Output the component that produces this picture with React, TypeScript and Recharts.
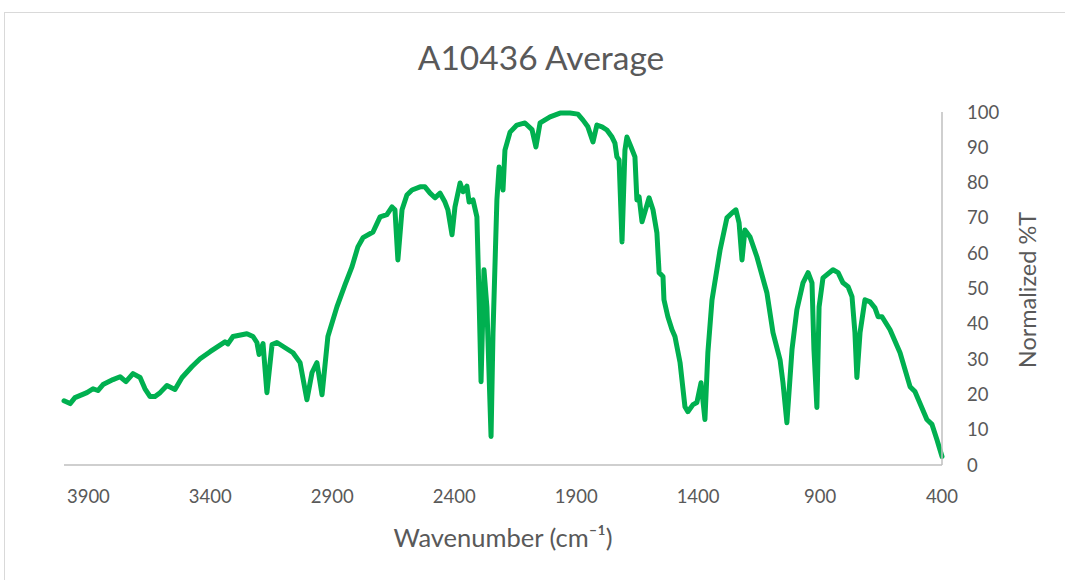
import { LineChart, Line, XAxis, YAxis } from 'recharts';

// spectrum (cm-1, normalized %T)
const wavenumbers = [
  4000, 3975, 3955, 3906, 3881, 3861, 3840, 3799, 3770, 3746, 3717, 3688, 3668, 3647, 3627, 3606,
  3578, 3545, 3516, 3475, 3442, 3401, 3340, 3328, 3307, 3250, 3225, 3209, 3200, 3184, 3168, 3147,
  3127, 3061, 3032, 3004, 2983, 2963, 2942, 2918, 2881, 2848, 2819, 2795, 2774, 2733, 2704, 2676,
  2655, 2643, 2631, 2614, 2594, 2573, 2540, 2520, 2499, 2479, 2458, 2438, 2426, 2409, 2397, 2376,
  2364, 2348, 2339, 2323, 2307, 2298, 2290, 2278, 2266, 2249, 2241, 2225, 2216, 2200, 2192, 2171,
  2143, 2110, 2081, 2065, 2048, 2007, 1966, 1925, 1893, 1872, 1852, 1831, 1815, 1794, 1774, 1753,
  1741, 1733, 1724, 1712, 1700, 1692, 1675, 1659, 1651, 1642, 1630, 1618, 1601, 1585, 1569, 1560,
  1544, 1540, 1524, 1507, 1495, 1474, 1454, 1442, 1421, 1405, 1388, 1372, 1360, 1343, 1310, 1282,
  1261, 1245, 1232, 1220, 1208, 1187, 1159, 1118, 1093, 1064, 1052, 1036, 1015, 995, 970, 949,
  933, 925, 913, 904, 888, 847, 826, 806, 785, 769, 757, 749, 736, 716, 695, 675,
  662, 646, 613, 572, 531, 511, 462, 441, 421, 400,
];
const transmittance = [
  18.2, 17.4, 19.1, 20.5, 21.6, 21.1, 22.8, 24.2, 25.0, 23.6, 25.9, 24.8, 21.6, 19.4, 19.4, 20.5,
  22.5, 21.4, 24.8, 27.9, 30.1, 32.1, 34.9, 34.3, 36.4, 37.2, 36.4, 34.7, 31.3, 34.4, 20.5, 34.1,
  34.7, 31.8, 29.0, 18.5, 26.2, 29.0, 19.9, 36.4, 44.8, 51.0, 56.2, 61.8, 64.4, 66.0, 70.3, 70.9,
  73.1, 72.3, 58.1, 72.3, 76.5, 77.9, 78.8, 78.8, 77.0, 75.7, 77.0, 74.5, 72.3, 65.2, 73.1, 79.9,
  77.4, 79.0, 74.5, 75.1, 70.3, 46.8, 23.6, 55.3, 44.8, 8.1, 37.5, 75.1, 84.4, 77.9, 89.2, 94.3,
  96.3, 96.9, 95.0, 90.1, 96.9, 98.6, 99.7, 99.7, 99.4, 97.7, 95.8, 91.5, 96.3, 95.8, 94.9, 92.9,
  91.2, 87.3, 86.4, 63.2, 89.2, 92.9, 90.1, 87.3, 75.1, 76.0, 68.9, 71.7, 75.7, 72.3, 65.8, 54.5,
  53.4, 46.8, 42.0, 38.3, 36.4, 29.0, 16.5, 15.1, 17.1, 17.7, 23.3, 12.9, 31.8, 46.8, 60.9, 70.0,
  71.4, 72.3, 68.6, 58.1, 66.6, 64.6, 59.0, 48.8, 37.5, 29.8, 23.3, 12.0, 32.7, 44.0, 51.6, 54.5,
  51.6, 32.7, 16.3, 44.8, 53.0, 55.3, 54.5, 51.6, 50.5, 47.7, 37.5, 24.8, 37.5, 46.8, 46.2, 44.5,
  42.0, 42.0, 38.3, 31.8, 22.2, 20.8, 12.9, 11.5, 7.2, 2.4,
];

const xTicks = [3900, 3400, 2900, 2400, 1900, 1400, 900, 400];
const yTicks = [0, 10, 20, 30, 40, 50, 60, 70, 80, 90, 100];

const data = wavenumbers.map((wn, i) => ({ wn, t: transmittance[i] }));

const FONT = 'Lato, "Open Sans", sans-serif';
const TEXT = '#595959';
const AXIS = '#BFBFBF';

export default function App() {
  return (
    <div style={{ position: 'relative', width: 1065, height: 580, background: '#fff', overflow: 'hidden', fontFamily: FONT }}>
      <style>{'body{margin:0}'}</style>
      {/* chart frame, only top and left edges show */}
      <div style={{ position: 'absolute', left: 4, top: 12, width: 1200, height: 1000, borderTop: '1.5px solid #D9D9D9', borderLeft: '1.5px solid #D9D9D9' }} />

      <div style={{ position: 'absolute', left: 541, top: 57, transform: 'translate(-50%, -50%)', fontSize: 33.5, color: TEXT, whiteSpace: 'nowrap' }}>
        A10436 Average
      </div>

      <LineChart
        width={1065}
        height={580}
        data={data}
        margin={{ top: 112, right: 43, left: 64, bottom: 75 }}
        style={{ position: 'absolute', left: 0, top: 0 }}
      >
        <XAxis
          dataKey="wn"
          type="number"
          domain={[400, 4000]}
          reversed
          ticks={xTicks}
          interval={0}
          height={40}
          tickSize={0}
          tickMargin={25}
          axisLine={{ stroke: AXIS, strokeWidth: 1.5 }}
          tickLine={false}
          tick={{ fill: TEXT, fontSize: 18.5, fontFamily: FONT }}
        />
        <YAxis
          orientation="right"
          type="number"
          domain={[0, 100]}
          ticks={yTicks}
          interval={0}
          width={80}
          tickSize={0}
          tickMargin={25}
          axisLine={{ stroke: AXIS, strokeWidth: 1.5 }}
          tickLine={false}
          tick={{ fill: TEXT, fontSize: 18.5, fontFamily: FONT }}
        />
        <Line
          type="linear"
          dataKey="t"
          stroke="#00B050"
          strokeWidth={5}
          strokeLinejoin="round"
          strokeLinecap="round"
          dot={false}
          activeDot={false}
          isAnimationActive={false}
        />
      </LineChart>

      <div style={{ position: 'absolute', left: 503, top: 537, transform: 'translate(-50%, -50%)', fontSize: 25.5, color: TEXT, whiteSpace: 'nowrap' }}>
        Wavenumber (cm⁻¹)
      </div>
      <div style={{ position: 'absolute', left: 1027, top: 290, transform: 'translate(-50%, -50%) rotate(-90deg)', fontSize: 23.5, color: TEXT, whiteSpace: 'nowrap' }}>
        Normalized %T
      </div>
    </div>
  );
}
